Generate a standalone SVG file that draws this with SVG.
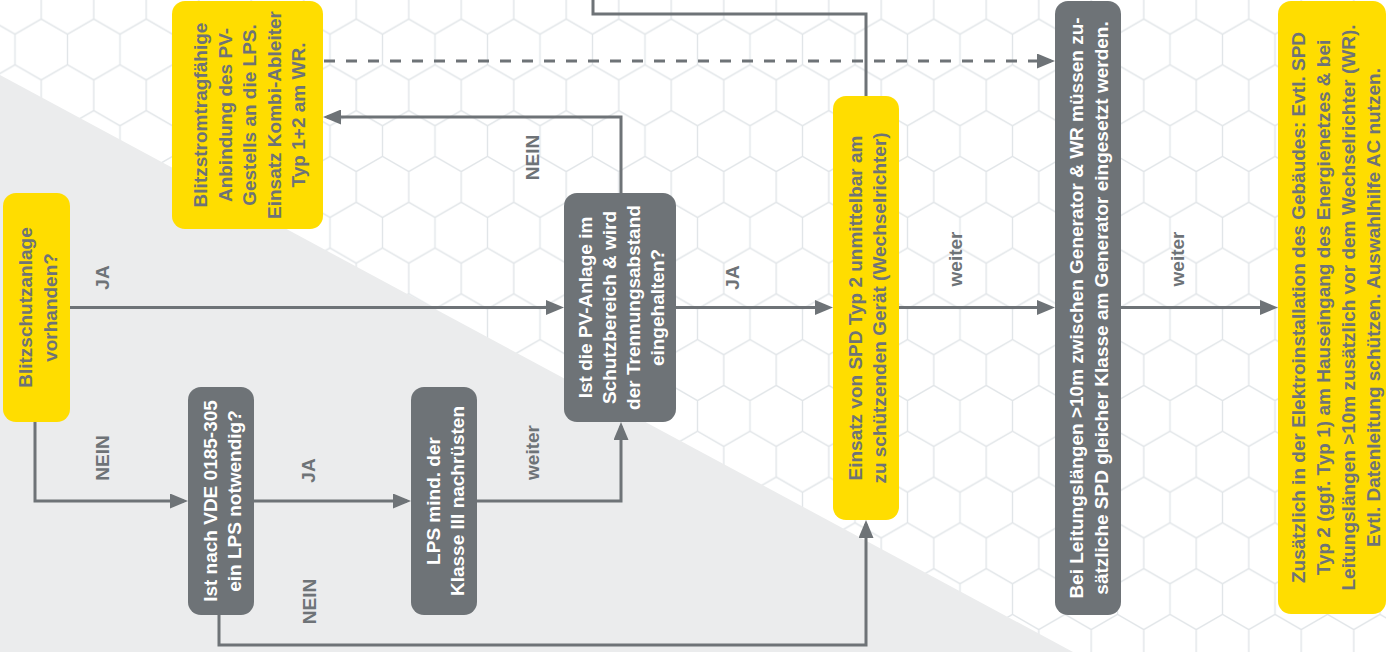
<svg xmlns="http://www.w3.org/2000/svg" width="1386" height="652" viewBox="0 0 1386 652">
<style>
.bg{fill:#ffffff}
.tri{fill:#ebeced}
.ny{fill:#ffdd00}
.ng{fill:#6e7377}
.t{font-family:"Liberation Sans",Arial,sans-serif;font-weight:bold;font-size:19px;text-anchor:middle}
.ty{fill:#6e7377}
.tw{fill:#ffffff}
.lbl{font-family:"Liberation Sans",Arial,sans-serif;font-weight:bold;font-size:19px;text-anchor:middle;fill:#6e7377}
.c{fill:none;stroke:#6e7377;stroke-width:3}
.a{marker-end:url(#arr)}
.d{stroke-dasharray:11 11}
</style>
<defs>
<pattern id="hex" width="52.5" height="91.6" patternUnits="userSpaceOnUse" x="-11.25" y="49.5">
<path d="M26.25,0 V15.25 L52.5,30.55 V61.05 L26.25,76.35 L0,61.05 V30.55 L26.25,15.25 M26.25,76.35 V91.6" fill="none" stroke="#e1e5e8" stroke-width="1.4"/>
</pattern>
<marker id="arr" viewBox="0 0 18 15" refX="14" refY="7.5" markerWidth="18" markerHeight="15" markerUnits="userSpaceOnUse" orient="auto">
<path d="M0,0 L18,7.5 L0,15 Z" fill="#6e7377"/>
</marker>
</defs>
<rect class="bg" x="0" y="0" width="1386" height="652"/>
<rect x="0" y="0" width="1386" height="652" fill="url(#hex)"/>
<polygon class="tri" points="0,75 1073,652 0,652"/>

<g id="connectors">
<path class="c a" d="M70,307.5 H560"/>
<path class="c a" d="M35,422 V501 H184"/>
<path class="c a" d="M254,501 H407"/>
<path class="c a" d="M219,615 V645 H866 V524"/>
<path class="c a" d="M477,501 H621 V426"/>
<path class="c a" d="M621,193 V117 H327"/>
<path class="c a" d="M676,307.5 H829"/>
<path class="c" d="M593,0 V14 H866 V96"/>
<path class="c a d" d="M324,61 H1051"/>
<path class="c a" d="M899,307.5 H1051"/>
<path class="c a" d="M1121,307.5 H1274"/>
<text class="lbl" transform="rotate(-90)"><tspan x="-277.5" y="109">JA</tspan></text>
<text class="lbl" transform="rotate(-90)"><tspan x="-458" y="109">NEIN</tspan></text>
<text class="lbl" transform="rotate(-90)"><tspan x="-470.5" y="315">JA</tspan></text>
<text class="lbl" transform="rotate(-90)"><tspan x="-601.5" y="316">NEIN</tspan></text>
<text class="lbl" transform="rotate(-90)"><tspan x="-452.5" y="539">weiter</tspan></text>
<text class="lbl" transform="rotate(-90)"><tspan x="-157.5" y="539">NEIN</tspan></text>
<text class="lbl" transform="rotate(-90)"><tspan x="-277.5" y="739">JA</tspan></text>
<text class="lbl" transform="rotate(-90)"><tspan x="-259" y="962">weiter</tspan></text>
<text class="lbl" transform="rotate(-90)"><tspan x="-259" y="1184">weiter</tspan></text>
</g>

<g id="n1">
<rect class="ny" x="3" y="193" width="67" height="229" rx="13"/>
<text class="t ty" transform="rotate(-90)"><tspan x="-307.5" y="32">Blitzschutzanlage</tspan><tspan x="-307.5" y="57">vorhanden?</tspan></text>
</g>

<g id="n2">
<rect class="ny" x="172" y="1" width="151" height="228" rx="13"/>
<text class="t ty" transform="rotate(-90)"><tspan x="-115" y="207">Blitzstromtragfähige</tspan><tspan x="-115" y="231.5">Anbindung des PV-</tspan><tspan x="-115" y="256">Gestells an die LPS.</tspan><tspan x="-115" y="280.5">Einsatz Kombi-Ableiter</tspan><tspan x="-115" y="305">Typ 1+2 am WR.</tspan></text>
</g>

<g id="n3">
<rect class="ng" x="188" y="387" width="66" height="228" rx="13"/>
<text class="t tw" transform="rotate(-90)"><tspan x="-501" y="217">Ist nach VDE 0185-305</tspan><tspan x="-501" y="241">ein LPS notwendig?</tspan></text>
</g>

<g id="n4">
<rect class="ng" x="411" y="387" width="66" height="228" rx="13"/>
<text class="t tw" transform="rotate(-90)"><tspan x="-501" y="440">LPS mind. der</tspan><tspan x="-501" y="464">Klasse III nachrüsten</tspan></text>
</g>

<g id="n5">
<rect class="ng" x="564" y="193" width="112" height="229" rx="13"/>
<text class="t tw" transform="rotate(-90)"><tspan x="-307.5" y="592">Ist die PV-Anlage im</tspan><tspan x="-307.5" y="616">Schutzbereich &amp; wird</tspan><tspan x="-307.5" y="640">der Trennungsabstand</tspan><tspan x="-307.5" y="664">eingehalten?</tspan></text>
</g>

<g id="n6">
<rect class="ny" x="833" y="96" width="66" height="424" rx="13"/>
<text class="t ty" transform="rotate(-90)"><tspan x="-308" y="862">Einsatz von SPD Typ 2 unmittelbar am</tspan><tspan x="-308" y="886">zu schützenden Gerät (Wechselrichter)</tspan></text>
</g>

<g id="n7">
<rect class="ng" x="1055" y="1" width="66" height="614" rx="13"/>
<text class="t tw" transform="rotate(-90)"><tspan x="-308" y="1083">Bei Leitungslängen &gt;10m zwischen Generator &amp; WR müssen zu-</tspan><tspan x="-308" y="1108">sätzliche SPD gleicher Klasse am Generator eingesetzt werden.</tspan></text>
</g>

<g id="n8">
<rect class="ny" x="1278" y="1" width="108" height="613" rx="13"/>
<text class="t ty" transform="rotate(-90)"><tspan x="-307.5" y="1305">Zusätzlich in der Elektroinstallation des Gebäudes: Evtl. SPD</tspan><tspan x="-307.5" y="1330">Typ 2 (ggf. Typ 1) am Hauseingang des Energienetzes &amp; bei</tspan><tspan x="-307.5" y="1355">Leitungslängen &gt;10m zusätzlich vor dem Wechselrichter (WR).</tspan><tspan x="-307.5" y="1380">Evtl. Datenleitung schützen. Auswahlhilfe AC nutzen.</tspan></text>
</g>
</svg>
